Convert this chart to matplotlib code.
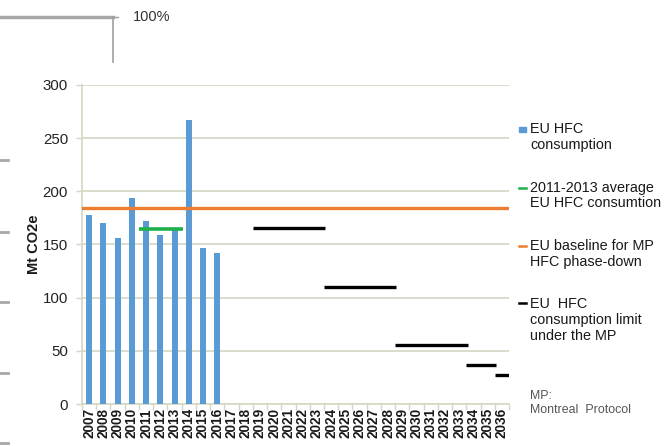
import matplotlib
matplotlib.use("Agg")
import matplotlib.pyplot as plt
from matplotlib.lines import Line2D
from matplotlib.patches import Rectangle
import numpy as np

plt.rcParams['font.family'] = ['Liberation Sans', 'DejaVu Sans']

# ---- data ----
years = list(range(2007, 2037))
cons_years = [2007, 2008, 2009, 2010, 2011, 2012, 2013, 2014, 2015, 2016]
cons_values = [178, 170, 156, 194, 172, 159, 164, 267, 147, 142]
avg_start, avg_end, avg_value = 2011, 2013, 165
baseline_value = 184
limit_starts = [2019, 2024, 2029, 2034, 2036]
limit_ends = [2023, 2028, 2033, 2035, 2036]
limit_values = [165.5, 110.3, 55.2, 36.8, 27.6]
yticks = [0, 50, 100, 150, 200, 250, 300]

W, H = 664, 446
fig = plt.figure(figsize=(W / 100, H / 100), dpi=100)
ax = fig.add_axes([82 / W, 1 - 404 / H, (509 - 82) / W, (404 - 85) / H])

grid_c = '#d6d6c2'
idx = {y: i for i, y in enumerate(years)}

ax.bar([idx[y] for y in cons_years], cons_values, width=0.42, color='#5b9bd5', zorder=3)
ax.axhline(baseline_value, color='#ed7d31', lw=2.4, zorder=4)
ax.hlines(avg_value, idx[avg_start] - 0.5, idx[avg_end] + 0.59, color='#1fb04c', lw=2.6, zorder=5)
for s, e, v in zip(limit_starts, limit_ends, limit_values):
    ax.hlines(v, idx[s] - 0.5, idx[e] + 0.59, color='black', lw=2.4, zorder=5)

ax.set_xlim(-0.5, len(years) - 0.5)
ax.set_ylim(0, 300)
ax.set_yticks(yticks)
ax.set_yticklabels([str(t) for t in yticks], fontsize=10.8, color='#222222')
ax.yaxis.grid(True, color=grid_c, lw=1.2, zorder=0)
ax.set_xticks(range(len(years)))
ax.set_xticklabels([str(y) for y in years], rotation=90, fontsize=9.8, fontweight='bold', color='#1a1a1a')
ax.set_xticks(np.arange(-0.5, len(years), 1.0), minor=True)
ax.tick_params(axis='x', which='major', length=0, pad=3)
ax.tick_params(axis='x', which='minor', length=4, color=grid_c, width=1)
ax.tick_params(axis='y', length=4, color=grid_c, width=1, pad=6)
for sp in ['top', 'right']:
    ax.spines[sp].set_visible(False)
for sp in ['left', 'bottom']:
    ax.spines[sp].set_color(grid_c)
    ax.spines[sp].set_linewidth(1.2)
ax.set_ylabel('Mt CO2e', fontsize=10.5, fontweight='bold', color='#1a1a1a', labelpad=1)

# ---- legend (manual) ----
def fy(py):
    return 1 - py / H

hx0, hx1, tx = 519 / W, 526 / W, 530 / W
fig.add_artist(Rectangle((hx0, fy(132)), (hx1 - hx0), 5 / H, transform=fig.transFigure, color='#5b9bd5'))
fig.add_artist(Line2D([hx0, hx1], [fy(188), fy(188)], transform=fig.transFigure, color='#1fb04c', lw=1.8))
fig.add_artist(Line2D([hx0, hx1], [fy(246), fy(246)], transform=fig.transFigure, color='#ed7d31', lw=1.8))
fig.add_artist(Line2D([hx0, hx1], [fy(303), fy(303)], transform=fig.transFigure, color='black', lw=1.8))
leg_texts = [("EU HFC\nconsumption", 137),
             ("2011-2013 average\nEU HFC consumtion", 195.5),
             ("EU baseline for MP\nHFC phase-down", 254),
             ("EU  HFC\nconsumption limit\nunder the MP", 320)]
for t, py in leg_texts:
    fig.text(tx, fy(py), t, fontsize=10.4, color='#1a1a1a', va='center', ha='left', linespacing=1.15)
fig.text(tx, fy(403), "MP:\nMontreal  Protocol", fontsize=8.9, color='#555555', va='center', ha='left', linespacing=1.2)

# ---- background remnants ----
fig.add_artist(Line2D([0, 113 / W], [fy(17), fy(17)], transform=fig.transFigure, color='#a8a8a8', lw=2.5))
fig.add_artist(Line2D([113 / W, 113 / W], [fy(17), fy(62)], transform=fig.transFigure, color='#a0a0a0', lw=1.2))
fig.add_artist(Line2D([113 / W, 118 / W], [fy(17), fy(17)], transform=fig.transFigure, color='#a0a0a0', lw=1))
fig.text(133 / W, fy(17), "100%", fontsize=10.5, color='#333333', va='center', ha='left')
for py in [160, 232, 302, 373, 443]:
    fig.add_artist(Line2D([0, 8 / W], [fy(py), fy(py)], transform=fig.transFigure, color='#a8a8a8', lw=2))

fig.savefig('out.png', dpi=100)
